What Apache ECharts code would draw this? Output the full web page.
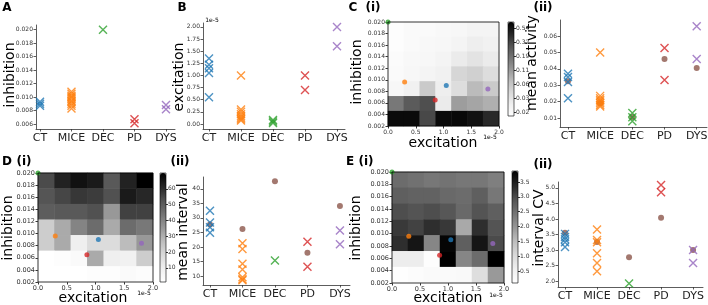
<!DOCTYPE html>
<html><head><meta charset="utf-8">
<script src="https://cdn.jsdelivr.net/npm/echarts@6/dist/echarts.min.js"></script>
<style>html,body{margin:0;padding:0;background:#fff}#c{width:708px;height:305px}</style>
</head><body><div id="c"></div><script>
// ---------------- data ----------------
const groups = ['CT', 'MICE', 'DEC', 'PD', 'DYS'];
const groupColors = ['#1f77b4', '#ff7f0e', '#2ca02c', '#d62728', '#9467bd'];
const meanColor = '#8c564b';

// A: fitted inhibition per individual
const inhibition = [
  [0.0093, 0.0090, 0.0087],
  [0.0108, 0.0105, 0.0102, 0.0100, 0.0098, 0.0095, 0.0093, 0.0090, 0.0087, 0.0083],
  [0.0200],
  [0.0067, 0.0061],
  [0.0088, 0.0082]
];
// B: fitted excitation per individual (x 1e-5)
const excitation = [
  [1.35, 1.22, 1.15, 1.05, 0.55],
  [1.00, 0.30, 0.25, 0.20, 0.16, 0.13, 0.10, 0.07],
  [0.08, 0.05, 0.02],
  [1.00, 0.70],
  [2.00, 1.60]
];
// C(ii): mean activity (individuals, model)
const meanActivity = [
  [0.037, 0.035, 0.032, 0.022],
  [0.050, 0.0235, 0.022, 0.021, 0.020, 0.019, 0.018, 0.017],
  [0.0130, 0.0105, 0.0080],
  [0.0527, 0.0332],
  [0.0660, 0.0460]
];
const meanActivityModel = [0.0325, 0.0190, 0.0106, 0.0460, 0.0405];
// D(ii): mean interval
const meanInterval = [
  [32.5, 28.4, 26.8, 24.9],
  [21.3, 19.3, 14.2, 12.2, 9.6, 8.9, 8.5],
  [15.3],
  [21.8, 13.2],
  [25.7, 20.9]
];
const meanIntervalModel = [27.7, 26.2, 42.6, 18.0, 34.1];
// E(ii): interval CV
const intervalCV = [
  [3.52, 3.42, 3.35, 3.25, 3.10],
  [3.66, 3.32, 3.25, 2.90, 2.58, 2.32],
  [1.92],
  [5.09, 4.86],
  [3.00, 2.58]
];
const intervalCVModel = [3.56, 3.26, 2.77, 4.04, 3.00];

// model parameter points of each group (excitation x1e-5, inhibition)
const paramExcitation = [1.05, 0.30, 0.00, 0.85, 1.80];
const paramInhibition = [0.0090, 0.0096, 0.0200, 0.0065, 0.0084];

// parameter-sweep maps, rows from high inhibition (top) to low (bottom)
const activityMap = [
  [0.018, 0.020, 0.020, 0.021, 0.022, 0.024, 0.024],
  [0.018, 0.020, 0.021, 0.022, 0.024, 0.028, 0.026],
  [0.019, 0.021, 0.022, 0.024, 0.030, 0.035, 0.030],
  [0.020, 0.022, 0.024, 0.026, 0.045, 0.050, 0.040],
  [0.022, 0.026, 0.055, 0.028, 0.040, 0.070, 0.055],
  [0.160, 0.240, 0.280, 0.030, 0.100, 0.090, 0.080],
  [0.600, 0.600, 0.300, 0.600, 0.620, 0.550, 0.420]
];
const intervalMap = [
  [54, 62, 66, 64, 51, 62, 70],
  [52, 55, 58, 57, 53, 64, 61],
  [50, 51, 51, 53, 35, 56, 56],
  [22, 31, 40, 46, 31, 46, 43],
  [22, 31, 10, 17, 17, 27, 35],
  [1, 2, 4, 31, 10, 9, 22],
  [1, 1, 1, 2, 2, 4, 3]
];
const cvMap = [
  [2.55, 2.48, 2.40, 2.45, 2.40, 2.40, 2.30],
  [2.74, 2.70, 2.70, 2.60, 2.55, 2.74, 2.40],
  [2.97, 2.90, 2.97, 2.85, 2.60, 2.90, 2.74],
  [3.19, 3.10, 3.30, 3.20, 1.76, 3.30, 2.90],
  [3.30, 3.60, 2.20, 3.80, 2.74, 3.60, 3.00],
  [0.63, 0.63, 0.15, 3.87, 2.20, 2.55, 3.87],
  [0.12, 0.20, 0.25, 0.25, 0.30, 0.93, 1.95]
];

// tick labels
const activityBarLabels = ['0.02', '0.03', '0.06', '0.11', '0.19', '0.32', '0.54'];
const intervalBarTicks = [10, 20, 30, 40, 50, 60];
const cvBarTicks = [0.5, 1.0, 1.5, 2.0, 2.5, 3.0, 3.5];
const sweepInhTicks = [0.002, 0.004, 0.006, 0.008, 0.010, 0.012, 0.014, 0.016, 0.018, 0.020];
const sweepExcTicks = [0, 0.5, 1.0, 1.5, 2.0];
const inhTicksA = [0.006, 0.008, 0.010, 0.012, 0.014, 0.016, 0.018, 0.020];
const excTicksB = [0, 0.25, 0.5, 0.75, 1.0, 1.25, 1.5, 1.75, 2.0];
const activityTicks = [0.01, 0.02, 0.03, 0.04, 0.05, 0.06];
const intervalTicks = [10, 15, 20, 25, 30, 35, 40];
const cvTicks = [2.0, 2.5, 3.0, 3.5, 4.0, 4.5, 5.0];

// ---------------- building ----------------
const FONT = 'DejaVu Sans';
const GREYS = ['#ffffff', '#f0f0f0', '#d9d9d9', '#bdbdbd', '#969696', '#737373', '#525252', '#252525', '#000000'];
const XSYM = 'path://M0,0L10,10M10,0L0,10';
const grids = [], xAxes = [], yAxes = [], series = [], visualMaps = [], graphics = [];
const catIdx = groups.map((_, i) => i);

function addGrid(r) {
  grids.push({left: r[0], top: r[1], width: r[2], height: r[3], containLabel: false, outerBoundsMode: 'none', show: false});
  return grids.length - 1;
}
function lineStyle(c) { return {color: c || '#333', width: 0.8}; }

function stripPanel(r, xr, yr, yTicks, yFmt, values, model) {
  const g = addGrid(r);
  xAxes.push({type: 'value', gridIndex: g, min: xr[0], max: xr[1], position: 'bottom',
    axisLine: {show: true, onZero: false, lineStyle: lineStyle()},
    axisTick: {show: true, length: 2.5, customValues: catIdx, lineStyle: lineStyle()},
    axisLabel: {customValues: catIdx, formatter: v => groups[Math.round(v)], fontSize: 11, color: '#222', margin: 4, fontFamily: FONT},
    splitLine: {show: false}});
  const xi = xAxes.length - 1;
  yAxes.push({type: 'value', gridIndex: g, min: yr[0], max: yr[1], position: 'left',
    axisLine: {show: true, onZero: false, lineStyle: lineStyle()},
    axisTick: {show: true, length: 2.5, customValues: yTicks, lineStyle: lineStyle()},
    axisLabel: {customValues: yTicks, formatter: yFmt, fontSize: 6, color: '#333', margin: 3, fontFamily: FONT},
    splitLine: {show: false}});
  const yi = yAxes.length - 1;
  if (model) {
    series.push({type: 'scatter', xAxisIndex: xi, yAxisIndex: yi, symbol: 'circle', symbolSize: 6,
      itemStyle: {color: meanColor}, data: model.map((v, i) => [i, v]), z: 2, silent: true});
  }
  values.forEach((arr, i) => {
    series.push({type: 'scatter', xAxisIndex: xi, yAxisIndex: yi, symbol: XSYM, symbolSize: 8,
      itemStyle: {color: groupColors[i], borderColor: groupColors[i], borderWidth: 1.4},
      data: arr.map(v => [i, v]), z: 3, silent: true});
  });
}

function heatPanel(r, map, transform, labelFont) {
  const g = addGrid(r);
  const nR = map.length, nC = map[0].length;
  xAxes.push({type: 'category', gridIndex: g, data: map[0].map((_, i) => String(i)), show: false});
  yAxes.push({type: 'category', gridIndex: g, data: map.map((_, i) => String(i)), show: false});
  const data = [];
  map.forEach((row, ri) => row.forEach((v, ci) => data.push([ci, nR - 1 - ri, transform ? transform(v) : v])));
  series.push({type: 'heatmap', xAxisIndex: xAxes.length - 1, yAxisIndex: yAxes.length - 1, data,
    itemStyle: {borderWidth: 0}, emphasis: {disabled: true}, silent: true, progressive: 0});
  const sIdx = series.length - 1;
  const g2 = addGrid(r);
  xAxes.push({type: 'value', gridIndex: g2, min: 0, max: 2, position: 'bottom',
    axisLine: {show: false, onZero: false},
    axisTick: {show: true, length: 2.5, customValues: sweepExcTicks, lineStyle: lineStyle('#000')},
    axisLabel: {customValues: sweepExcTicks, formatter: v => v.toFixed(1), fontSize: labelFont, color: '#333', margin: 3, fontFamily: FONT},
    splitLine: {show: false}});
  yAxes.push({type: 'value', gridIndex: g2, min: 0.002, max: 0.020, position: 'left',
    axisLine: {show: false, onZero: false},
    axisTick: {show: true, length: 2.5, customValues: sweepInhTicks, lineStyle: lineStyle('#000')},
    axisLabel: {customValues: sweepInhTicks, formatter: v => v.toFixed(3), fontSize: labelFont, color: '#333', margin: 3, fontFamily: FONT},
    splitLine: {show: false}});
  series.push({type: 'scatter', xAxisIndex: xAxes.length - 1, yAxisIndex: yAxes.length - 1, symbol: 'circle', symbolSize: 5,
    clip: true, silent: true, z: 5,
    data: paramExcitation.map((x, i) => ({value: [x, paramInhibition[i]], itemStyle: {color: groupColors[i]}}))});
  graphics.push({type: 'rect', shape: {x: r[0], y: r[1], width: r[2], height: r[3]},
    style: {fill: 'none', stroke: '#000', lineWidth: 0.8}, z: 100});
  return sIdx;
}

function colorbar(r, sIdx, min, max, ticks, fmt) {
  visualMaps.push({type: 'continuous', seriesIndex: sIdx, dimension: 2, min, max,
    inRange: {color: GREYS}, left: r[0], top: r[1], itemWidth: r[2], itemHeight: r[3],
    padding: 0, calculable: false, realtime: false, hoverLink: false, orient: 'vertical', show: true});
  const g = addGrid(r);
  xAxes.push({type: 'value', gridIndex: g, show: false, min: 0, max: 1});
  yAxes.push({type: 'value', gridIndex: g, min, max, position: 'right',
    axisLine: {show: false, onZero: false},
    axisTick: {show: true, length: 2, customValues: ticks, lineStyle: lineStyle('#000')},
    axisLabel: {customValues: ticks, formatter: fmt, fontSize: 6, color: '#333', margin: 2, fontFamily: FONT},
    splitLine: {show: false}});
  graphics.push({type: 'rect', shape: {x: r[0], y: r[1], width: r[2], height: r[3]},
    style: {fill: 'none', stroke: '#000', lineWidth: 0.6}, z: 100});
}

function txt(x, y, text, font, rot) {
  graphics.push({type: 'text', x, y, rotation: rot ? Math.PI / 2 : 0, z: 100,
    style: {text, font, fill: '#000', align: 'center', verticalAlign: 'middle'}});
}

// A
stripPanel([36, 25, 139, 104], [-0.127, 4.286], [0.00525, 0.0207], inhTicksA, v => v.toFixed(3), inhibition, null);
// B
stripPanel([203, 23, 142, 106], [-0.1875, 4.25], [-0.103, 2.08], excTicksB, v => v.toFixed(2), excitation, null);
// C(ii)
stripPanel([560, 20, 147, 107], [-0.248, 4.32], [0.00451, 0.0698], activityTicks, v => v.toFixed(2), meanActivity, meanActivityModel);
// D(ii)
stripPanel([203, 177, 147, 108], [-0.215, 4.31], [6.9, 44.1], intervalTicks, v => String(v), meanInterval, meanIntervalModel);
// E(ii)
stripPanel([558, 182, 145, 105], [-0.219, 4.31], [1.81, 5.19], cvTicks, v => v.toFixed(1), intervalCV, intervalCVModel);

// C(i) with log colour scale (levels: 0.02 -> 0, 0.54 -> 6)
const actLevel = v => 6 * Math.log(v / 0.02) / Math.log(0.54 / 0.02);
const sC = heatPanel([388, 22, 111, 104], activityMap, actLevel, 6);
colorbar([508, 22, 6, 94], sC, -0.29, 6.43, activityBarLabels.map((_, i) => i), v => activityBarLabels[Math.round(v)]);
// D(i)
const sD = heatPanel([38, 173, 115, 109], intervalMap, null, 6.5);
colorbar([160, 173, 6, 109], sD, 1, 70, intervalBarTicks, v => String(v));
// E(i)
const sE = heatPanel([392, 172, 112, 111], cvMap, null, 6.5);
colorbar([512, 171, 6, 112], sE, 0.1, 3.87, cvBarTicks, v => v.toFixed(1));

// text
const BOLD = 'bold 12px ' + FONT;
const LAB = '14px ' + FONT;
const SMALL = '6px ' + FONT;
txt(7, 8, 'A', BOLD); txt(182, 8, 'B', BOLD);
txt(353, 8, 'C', BOLD); txt(373, 8, '(i)', BOLD); txt(543, 8, '(ii)', BOLD);
txt(7, 162, 'D', BOLD); txt(24, 162, '(i)', BOLD); txt(180, 162, '(ii)', BOLD);
txt(350, 162, 'E', BOLD); txt(366, 162, '(i)', BOLD); txt(543, 165, '(ii)', BOLD);

txt(10, 75, 'inhibition', LAB, true);
txt(179, 77, 'excitation', LAB, true);
txt(357, 72, 'inhibition', LAB, true);
txt(532, 63, 'mean activity', LAB, true);
txt(8, 228, 'inhibition', LAB, true);
txt(183, 232, 'mean interval', LAB, true);
txt(356, 228, 'inhibition', LAB, true);
txt(539, 228, 'interval CV', LAB, true);

txt(443, 143, 'excitation', LAB);
txt(93, 298, 'excitation', LAB);
txt(448, 298, 'excitation', LAB);

txt(212, 20, '1e-5', SMALL);
txt(490, 137, '1e-5', SMALL);
txt(144, 293, '1e-5', SMALL);
txt(496, 295, '1e-5', SMALL);

const chart = echarts.init(document.getElementById('c'), null, {renderer: 'canvas'});
chart.setOption({
  animation: false,
  grid: grids, xAxis: xAxes, yAxis: yAxes, series, visualMap: visualMaps,
  graphic: {elements: graphics}
});
</script></body></html>
